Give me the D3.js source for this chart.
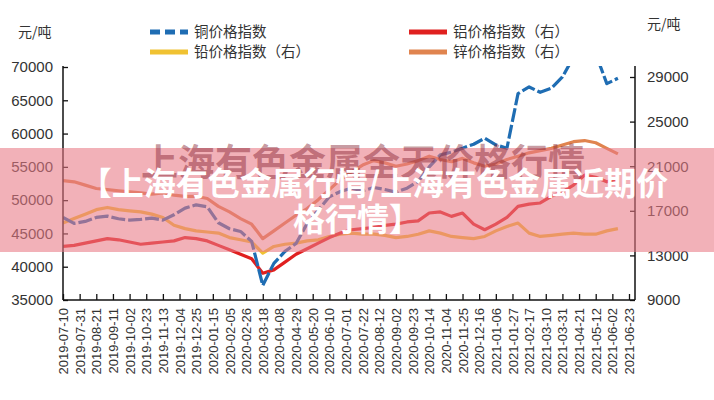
<!DOCTYPE html>
<html>
<head>
<meta charset="utf-8">
<script src="https://cdn.jsdelivr.net/npm/d3@7"></script>
<style>
  body { margin: 0; background: #fff; }
  text { font-family: "Liberation Sans", "Noto Sans CJK SC", sans-serif; fill: #333; }
  .cjk { font-family: "Noto Sans CJK SC", sans-serif; }
</style>
</head>
<body>
<svg id="chart" width="714" height="400"></svg>
<script>
// sampling dates: every 14 days starting 2019-07-10
var startDate = new Date(2019, 6, 10);
var tickLabels = ["2019-07-10","2019-07-31","2019-08-21","2019-09-11","2019-10-02","2019-10-23","2019-11-13",
  "2019-12-04","2019-12-25","2020-01-15","2020-02-05","2020-02-26","2020-03-18","2020-04-08","2020-04-29",
  "2020-05-20","2020-06-10","2020-07-01","2020-07-22","2020-08-12","2020-09-02","2020-09-23","2020-10-14",
  "2020-11-04","2020-11-25","2020-12-16","2021-01-06","2021-01-27","2021-02-17","2021-03-10","2021-03-31",
  "2021-04-21","2021-05-12","2021-06-02","2021-06-23"];

var copper = [47400,46500,46800,47400,47600,47200,47000,47100,47300,47000,47800,48800,49300,49000,46600,45700,
  45300,43800,37200,40500,42300,43500,46500,48500,50500,51300,51800,51400,51900,51600,51200,51800,52800,55000,
  56800,57200,57800,58400,59300,58300,57800,66000,67000,66200,66800,68500,71500,72500,72000,67500,68300];
var aluminum = [13800,13900,14100,14300,14500,14400,14200,14000,14100,14200,14300,14600,14500,14300,13900,13500,
  13100,12700,11400,11700,12400,13100,13600,14100,14600,15000,15300,15400,15500,15700,15800,16000,16100,16800,
  16900,16500,16800,15800,15300,15800,16400,17400,17600,17700,18300,18700,19300,20200,20000,19600,19900];
var lead = [15900,16300,16700,17100,17300,17100,17000,16900,16700,16400,15700,15400,15200,15100,15000,14600,
  14400,14200,13200,13800,14000,14100,14300,14400,14700,14900,15000,14900,14900,14800,14600,14700,14900,15200,
  15000,14700,14600,14500,14700,15200,15600,15900,15000,14700,14800,14900,15000,14900,14900,15200,15400];
var zinc = [19700,19600,19300,19000,18900,18800,18700,18600,18500,18600,18400,18300,18300,18100,17400,16900,
  16300,15800,14500,15200,15900,16600,17200,18000,18900,19800,20500,21100,21500,21300,21000,21200,21500,21900,
  21600,21400,21700,21300,21000,21200,21600,21900,22200,22400,22600,22900,23200,23300,23100,22600,22100];

var leftTicks = [35000, 40000, 45000, 50000, 55000, 60000, 65000, 70000];
var rightTicks = [9000, 13000, 17000, 21000, 25000, 29000];

var svg = d3.select("#chart");
var parse = d3.timeParse("%Y-%m-%d");

var x = d3.scaleTime()
  .domain([parse(tickLabels[0]), parse(tickLabels[tickLabels.length - 1])])
  .range([63, 629]);
var yL = d3.scaleLinear().domain([35000, 70000]).range([300, 67]);
var yR = d3.scaleLinear().domain([9000, 29000]).range([300, 77]);

function dateAt(i) { return d3.timeDay.offset(startDate, i * 14); }

svg.append("clipPath").attr("id", "plot")
  .append("rect").attr("x", 63).attr("y", 66).attr("width", 572).attr("height", 236);

var g = svg.append("g").attr("clip-path", "url(#plot)");

function draw(vals, scale, color, dash) {
  var line = d3.line()
    .x(function(d, i) { return x(dateAt(i)); })
    .y(function(d) { return scale(d); });
  var p = g.append("path").datum(vals)
    .attr("d", line).attr("fill", "none")
    .attr("stroke", color).attr("stroke-width", 3.2)
    .attr("stroke-linejoin", "round");
  if (dash) p.attr("stroke-dasharray", dash);
}
draw(zinc, yR, "#e0844f");
draw(lead, yR, "#f0c232");
draw(aluminum, yR, "#e0201f");
draw(copper, yL, "#1f6db3", "14,3");

// axes
var axL = svg.append("g").attr("transform", "translate(63,0)")
  .call(d3.axisLeft(yL).tickValues(leftTicks).tickSize(-5).tickPadding(10).tickFormat(d3.format("d")));
var axR = svg.append("g").attr("transform", "translate(635,0)")
  .call(d3.axisRight(yR).tickValues(rightTicks).tickSize(-5).tickPadding(12).tickFormat(d3.format("d")));
var axB = svg.append("g").attr("transform", "translate(0,300)")
  .call(d3.axisBottom(x).tickValues(tickLabels.map(parse)).tickSize(-6).tickFormat(d3.timeFormat("%Y-%m-%d")));
axB.selectAll("text")
  .attr("transform", "rotate(-90)")
  .attr("text-anchor", "end")
  .attr("x", -8).attr("y", 0).attr("dy", "0.35em")
  .style("font-size", "13px");
[axL, axR].forEach(function(a) {
  a.selectAll("text").style("font-size", "15px");
});
[axL, axR, axB].forEach(function(a) {
  a.select(".domain").attr("stroke", "#111").attr("stroke-width", 1.5);
  a.selectAll(".tick line").attr("stroke", "#111").attr("stroke-width", 1.3);
});
axB.select(".domain").attr("d", "M63,0H635");
axL.select(".domain").attr("d", "M0,300V66");
axR.select(".domain").attr("d", "M0,300V66");

// unit labels
svg.append("text").attr("class", "cjk").attr("x", 18).attr("y", 37).style("font-size", "14px").text("元/吨");
svg.append("text").attr("class", "cjk").attr("x", 647).attr("y", 29).style("font-size", "14px").text("元/吨");

// legend
var legend = [
  { name: "铜价格指数", color: "#1f6db3", dash: "10,5", lx: 150, ly: 32 },
  { name: "铝价格指数（右）", color: "#e0201f", dash: null, lx: 409, ly: 32 },
  { name: "铅价格指数（右）", color: "#f0c232", dash: null, lx: 150, ly: 52 },
  { name: "锌价格指数（右）", color: "#e0844f", dash: null, lx: 409, ly: 52 }
];
legend.forEach(function(d) {
  var l = svg.append("line").attr("x1", d.lx).attr("x2", d.lx + 38)
    .attr("y1", d.ly).attr("y2", d.ly).attr("stroke", d.color).attr("stroke-width", 5);
  if (d.dash) l.attr("stroke-dasharray", d.dash);
  svg.append("text").attr("class", "cjk").attr("x", d.lx + 44).attr("y", d.ly + 5)
    .style("font-size", "14.5px").text(d.name);
});

// banner overlay (watermark intentionally sits behind the white title)
svg.append("rect").attr("x", 0).attr("y", 148).attr("width", 714).attr("height", 104)
  .attr("fill", "rgb(232,120,132)").attr("fill-opacity", 0.58);
svg.append("text").attr("class", "cjk").attr("x", 363).attr("y", 176)
  .attr("text-anchor", "middle").style("font-size", "37px").style("font-weight", "bold")
  .style("fill", "rgba(130,30,45,0.45)").text("上海有色金属全天价格行情");
svg.append("text").attr("class", "cjk").attr("x", 374).attr("y", 195)
  .attr("text-anchor", "middle").style("font-size", "32px").style("font-weight", "bold")
  .style("fill", "#fff").text("【上海有色金属行情/上海有色金属近期价");
svg.append("text").attr("class", "cjk").attr("x", 357).attr("y", 231)
  .attr("text-anchor", "middle").style("font-size", "32px").style("font-weight", "bold")
  .style("fill", "#fff").text("格行情】");
</script>
</body>
</html>
